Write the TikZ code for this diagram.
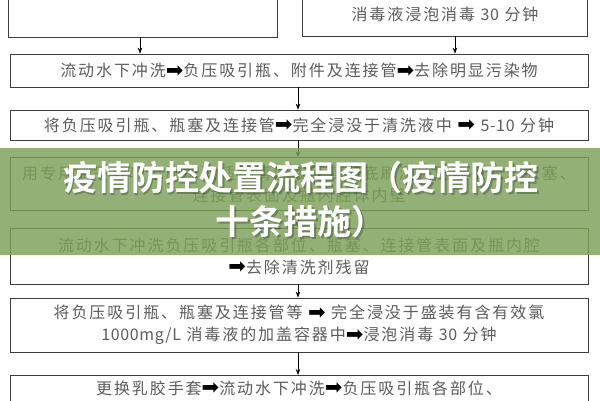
\documentclass[tikz,border=0pt]{standalone}
\usepackage{fontspec}
\usetikzlibrary{arrows.meta}
\newfontfamily\cjk{Noto Sans CJK SC}[LetterSpace=12]
\newfontfamily\lat{Noto Sans CJK SC}[LetterSpace=4]
\newfontfamily\titlef{Noto Sans CJK SC}[BoldFont=* Bold]
\newfontfamily\arrf{DejaVu Sans}
\newcommand{\ra}{\raisebox{-0.5pt}{\color{black}\arrf\fontsize{21}{21}\selectfont\char"27A1}}
\definecolor{txt}{RGB}{92,92,92}
\definecolor{edge}{RGB}{60,60,60}
\definecolor{band}{RGB}{124,160,88}
\tikzset{
  box/.style={draw=edge, line width=0.8pt, fill=white, inner sep=0pt, align=center,
    text=txt, font=\cjk\fontsize{16}{22}\selectfont},
  arr/.style={draw=black, line width=0.7pt, -{Stealth[length=6pt,width=4.5pt]}},
}
\begin{document}
\begin{tikzpicture}[x=1pt,y=-1pt]
\useasboundingbox (0,0) rectangle (600,400);
\clip (0,0) rectangle (600,400);
\fill[white] (0,0) rectangle (600,400);
% top boxes (cut at top)
\node[box, minimum width=269pt, minimum height=77pt] (tl) at (142.5,-1.5) {};
\node[box, minimum width=285pt, minimum height=76pt] (tr) at (444.5,-2) {};
\node[text=txt, font=\cjk\fontsize{16}{22}\selectfont] (trt) at (445,14) {消毒液浸泡消毒 {\lat 30} 分钟};
% main boxes
\node[box, minimum width=578pt, minimum height=33pt] (a) at (299,70.5)
  {流动水下冲洗\ra 负压吸引瓶、附件及连接管\ra 去除明显污染物};
\node[box, minimum width=578pt, minimum height=30pt] (b) at (299,125)
  {将负压吸引瓶、瓶塞及连接管\ra 完全浸没于清洗液中 \ra\ {\lat 5-10} 分钟};
\node[box, minimum width=578pt, minimum height=53pt] (c) at (299,184)
  {用专用刷子或软毛刷蘸取适量清洗液反复彻底刷洗负压吸引瓶、瓶塞、\\连接管表面及瓶内腔体内壁};
\node[box, minimum width=578pt, minimum height=56pt] (d) at (299,256)
  {流动水下冲洗负压吸引瓶各部位、瓶塞、连接管表面及瓶内腔\\\ra 去除清洗剂残留};
\node[box, minimum width=578pt, minimum height=54pt] (e) at (299,325)
  {将负压吸引瓶、瓶塞及连接管等 \ra\ 完全浸没于盛装有含有效氯\\{\lat 1000mg/L} 消毒液的加盖容器中\ra 浸泡消毒 {\lat 30} 分钟};
\node[box, minimum width=578pt, minimum height=60pt, anchor=north] (f) at (299,375) {};
\node[text=txt, font=\cjk\fontsize{16}{22}\selectfont] (ft) at (299,388)
  {更换乳胶手套\ra 流动水下冲洗\ra 负压吸引瓶各部位、};
% arrows
\coordinate (xl) at (140,0);
\coordinate (xr) at (455,0);
\coordinate (xm) at (298,0);
\draw[arr] (tl.south -| xl) -- (a.north -| xl);
\draw[arr] (tr.south -| xr) -- (a.north -| xr);
\draw[arr] (a.south -| xm) -- (b.north -| xm);
\draw[arr] (b.south -| xm) -- (c.north -| xm);
\draw[arr] (c.south -| xm) -- (d.north -| xm);
\draw[arr] (d.south -| xm) -- (e.north -| xm);
\draw[arr] (e.south -| xm) -- (f.north -| xm);
% green band
\fill[band, opacity=0.82] (0,148) rectangle (600,255);
% title
\node[text=black, opacity=0.25, align=center, font=\titlef\bfseries\fontsize{34}{44}\selectfont] (tsh) at (302.5,201.5)
  {疫情防控处置流程图（疫情防控\\十条措施）};
\node[text=white, align=center, font=\titlef\bfseries\fontsize{34}{44}\selectfont] (title) at (301,200)
  {疫情防控处置流程图（疫情防控\\十条措施）};
\end{tikzpicture}
\end{document}
